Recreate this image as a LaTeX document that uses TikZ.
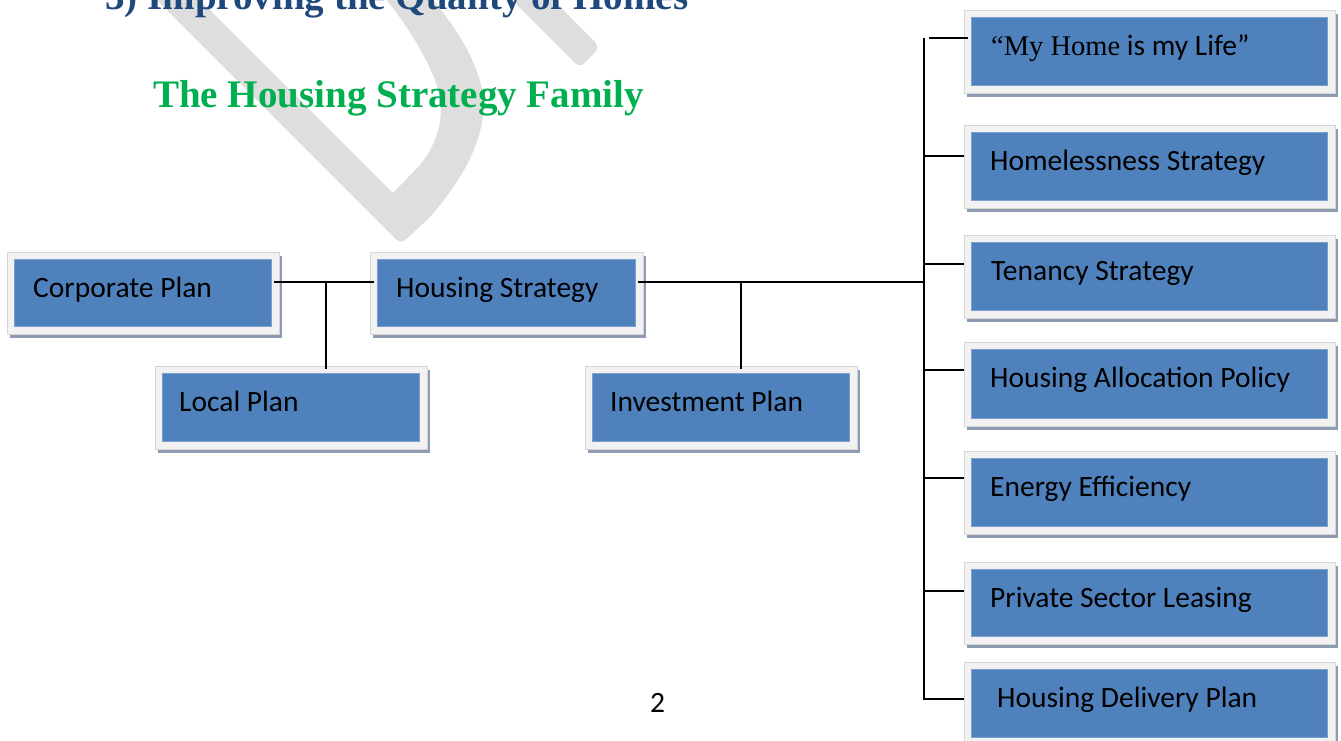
\documentclass[tikz,border=0pt]{standalone}
\usepackage{fontspec}
\setmainfont{Carlito}
\newfontfamily\titlefont{Liberation Serif}
\newfontfamily\serifq{Liberation Serif}
\usetikzlibrary{fit}
\definecolor{boxblue}{HTML}{4F81BD}
\definecolor{framegrey}{HTML}{F2F2F2}
\definecolor{shadowc}{HTML}{8E9CB2}
\definecolor{wmgrey}{HTML}{DEDEDE}
\definecolor{titleblue}{HTML}{1F497D}
\definecolor{titlegreen}{HTML}{00B050}
\tikzset{
  outerbox/.style={rectangle, fill=framegrey, draw=framegrey!88!black, line width=0.5pt, inner sep=0pt, outer sep=0pt},
  innerbox/.style={rectangle, fill=boxblue, draw=boxblue!75!white, line width=0.6pt, inner sep=0pt, outer sep=0pt},
  lbl/.style={anchor=base west, inner sep=0pt, font=\fontsize{29.5}{34}\selectfont, text=black},
  conn/.style={draw=black, line width=2pt},
  wm/.style={fill=wmgrey},
  titletext/.style={anchor=base west, inner sep=0pt, font=\titlefont\bfseries\fontsize{39}{44}\selectfont},
}
\newcommand\famBox[7]{%
  \fill[shadowc, shift={(3,4)}] (#2,#3) rectangle (#4,#5);
  \node[outerbox, fit={(#2,#3) (#4,#5)}] (#1) {};
  \node[innerbox, fit={([shift={(7,7)}]#1.north west) ([shift={(-8,-8)}]#1.south east)}] (#1-in) {};
  \node[lbl] (#1-t) at ([shift={(#6,45)}]#1.north west) {#7};
}
\begin{document}
\begin{tikzpicture}[x=1pt,y=-1pt]
\useasboundingbox[fill=white] (0,0) rectangle (1341,740);
% watermark
\fill[wm] (147,-10) [rounded corners=6pt]-- (401,244) -- (430,217) [sharp corners] .. controls (470,170) and (495,120) .. (478,75) .. controls (468,45) and (450,20) .. (425,-10) -- (378,-10) .. controls (400,15) and (420,45) .. (433,75) .. controls (448,110) and (440,140) .. (420,165) -- (393,193) -- (190,-10) -- cycle;
\fill[wm, rounded corners=7pt] (502,-10) -- (580,68) -- (600,47) -- (543,-10) -- cycle;
% titles
\node[titletext, text=titleblue] (t1) at (105,9) {3) Improving the Quality of Homes};
\node[titletext, text=titlegreen] (t2) at (153,107) {The Housing Strategy Family};
% boxes
\famBox{corp}{7}{252}{279}{334}{26}{Corporate Plan}
\famBox{hs}{370}{252}{643}{334}{26}{Housing Strategy}
\famBox{local}{155}{366}{427}{449}{24}{Local Plan}
\famBox{inv}{585}{366}{857}{449}{25}{Investment Plan}
\famBox{r1}{964}{10}{1335}{93}{27}{{\serifq\fontsize{28.5}{33}\selectfont “My Home} is my Life”}
\famBox{r2}{964}{125}{1335}{208}{26}{Homelessness Strategy}
\famBox{r3}{964}{235}{1335}{318}{27}{Tenancy Strategy}
\famBox{r4}{964}{342}{1335}{426}{26}{Housing Allocation Policy}
\famBox{r5}{964}{451}{1335}{534}{26}{Energy Efficiency}
\famBox{r6}{964}{562}{1335}{644}{26}{Private Sector Leasing}
\famBox{r7}{964}{662}{1335}{745}{33}{Housing Delivery Plan}
% page number
\node[anchor=base, inner sep=0pt, font=\fontsize{29.5}{34}\selectfont] (pg) at (657.5,712) {2};
% connectors
\coordinate (jc) at (326,282);
\coordinate (jb) at (924,282);
\coordinate (ji) at (741,282);
\coordinate (btop) at (924,38);
\coordinate (s1) at (929,38);
\coordinate (s2) at (924,156);
\coordinate (s3) at (924,264);
\coordinate (s4) at (924,370);
\coordinate (s5) at (924,478);
\coordinate (s6) at (924,591);
\coordinate (s7) at (924,699);
\draw[conn, shorten <=3pt, shorten >=3pt] (corp-in.east |- jc) -- (hs-in.west |- jc);
\draw[conn, shorten >=4pt] (jc) -- (local-in.north -| jc);
\draw[conn, shorten <=3pt] (hs-in.east |- jb) -- (jb);
\draw[conn, shorten >=4pt] (ji) -- (inv-in.north -| ji);
\draw[conn] (btop) -- (s7) -- (r7.west |- s7);
\draw[conn, shorten >=-4pt] (s1) -- (r1.west |- s1);
\foreach \i in {2,...,6} \draw[conn] (s\i) -- (r\i.west |- s\i);
\end{tikzpicture}
\end{document}
